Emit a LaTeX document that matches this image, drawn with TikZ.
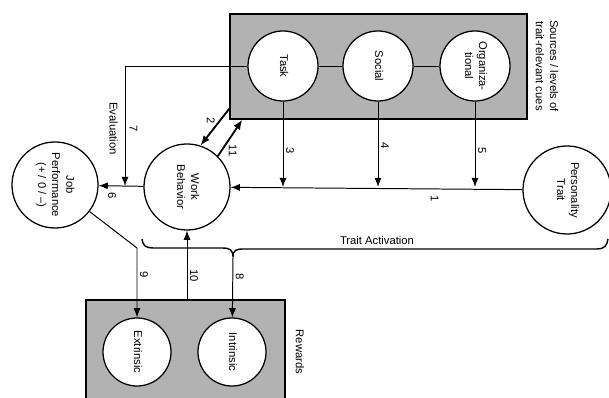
\documentclass[tikz,border=0pt]{standalone}
\usepackage{fontspec}
\setmainfont{Liberation Sans}
\usepackage{graphicx}
\usetikzlibrary{positioning, calc, arrows.meta}

% rotated text, lines read top to bottom
\newcommand{\rottext}[1]{\rotatebox{-90}{\begin{tabular}{@{}c@{}}#1\end{tabular}}}

\begin{document}
\begin{tikzpicture}[
    x=0.025cm, y=-0.025cm,
% Define custom styles for nodes
    circ/.style={
        draw,
        circle,
        line width=0.9pt,
        fill=white,
        inner sep=0pt,
        font=\fontsize{8}{10}\selectfont
        },
    box/.style={
        draw,
        rectangle,
        line width=0.9pt,
        fill=black!30
        },
    lbl/.style={rotate=-90, inner sep=1pt, font=\fontsize{8}{10}\selectfont},
    conn/.style={->, >={Latex[length=6.5pt,width=5pt]}, line width=0.7pt},
    heavy/.style={->, >={Latex[length=7pt,width=5.5pt]}, line width=1.3pt}
]
\useasboundingbox (0,0) rectangle (609,398);

% boxes
\node[box, minimum width=7.425cm, minimum height=2.625cm] (src) at (378.5,66.5) {};
\node[box, minimum width=4.975cm, minimum height=2.5cm] (rew) at (185.5,350) {};

\node[lbl, align=center] (srcL) at (547,66) {Sources / levels of\\trait-relevant cues};
\node[lbl] (rewL) at (300,352) {Rewards};

% circles
\node[circ, minimum size=1.75cm] (T) at (283,66) {\rottext{Task}};
\node[circ, minimum size=1.75cm] (S) at (378,66) {\rottext{Social}};
\node[circ, minimum size=1.75cm] (O) at (475,66) {\rottext{Organiza-\\tional}};

\node[circ, minimum size=2.15cm] (W) at (187,187) {\rottext{Work\\Behavior}};
\node[circ, minimum size=2.15cm] (J) at (55,185) {\rottext{Job\\Performance\\(+ / 0 / --)}};
\node[circ, minimum size=2.2cm] (P) at (567,190) {\rottext{Personality\\Trait}};

\node[circ, minimum size=1.7cm] (E) at (137,352) {\rottext{Extrinsic}};
\node[circ, minimum size=1.7cm] (I) at (232,352) {\rottext{Intrinsic}};

% cue links
\draw[line width=0.7pt] (T) -- (S);
\draw[line width=0.7pt] (S) -- (O);

% main path
\draw[conn] (P) -- (W) node[pos=0.3, yshift=-7pt, lbl] {1};
\draw[conn] (W) -- (J) node[pos=0.7, yshift=-7pt, lbl] {6};

\coordinate (j3) at (T |- W);
\coordinate (j4) at (S |- W);
\coordinate (j5) at (O |- W);
\draw[conn] (T) -- (j3) node[pos=0.57, xshift=5pt, lbl] {3};
\draw[conn] (S) -- (j4) node[pos=0.52, xshift=5pt, lbl] {4};
\draw[conn] (O) -- (j5) node[pos=0.57, xshift=5pt, lbl] {5};

\coordinate (j7) at (125,186);
\draw[conn] (T) -| (j7)
    node[pos=0.76, xshift=6pt, lbl] {7}
    node[pos=0.76, xshift=-8pt, lbl] {Evaluation};

% two way links with the sources box
\draw[heavy] ($(src.south west)+(0,-11)$) -- (W.72) node[pos=0.4, xshift=-5pt, yshift=2pt, lbl] {2};
\draw[heavy] (W.45) -- ($(src.south west)+(13,0)$) node[pos=0.15, xshift=8pt, lbl] {11};

% trait activation brace
\coordinate (cusp) at (233,257);
\draw[line width=1pt] (142,239) .. controls (143,246) and (146,248) .. (153,248) -- (222,248)
    .. controls (230,248) and (233,250) .. (cusp)
    .. controls (233,250) and (236,249) .. (244,249) -- (597,249)
    .. controls (604,249) and (607,246) .. (608,239);
\node[font=\fontsize{8}{10}\selectfont] (TA) at (377,240) {Trait Activation};

% rewards
\draw[conn] (J) -- (137,248) -- (E) node[pos=0.38, xshift=5pt, lbl] {9};
\draw[conn] (rew.north -| W) -- (W) node[pos=0.35, xshift=5pt, lbl] {10};
\draw[conn] (cusp) -- (I) node[pos=0.32, xshift=5pt, lbl] {8};

\end{tikzpicture}
\end{document}
